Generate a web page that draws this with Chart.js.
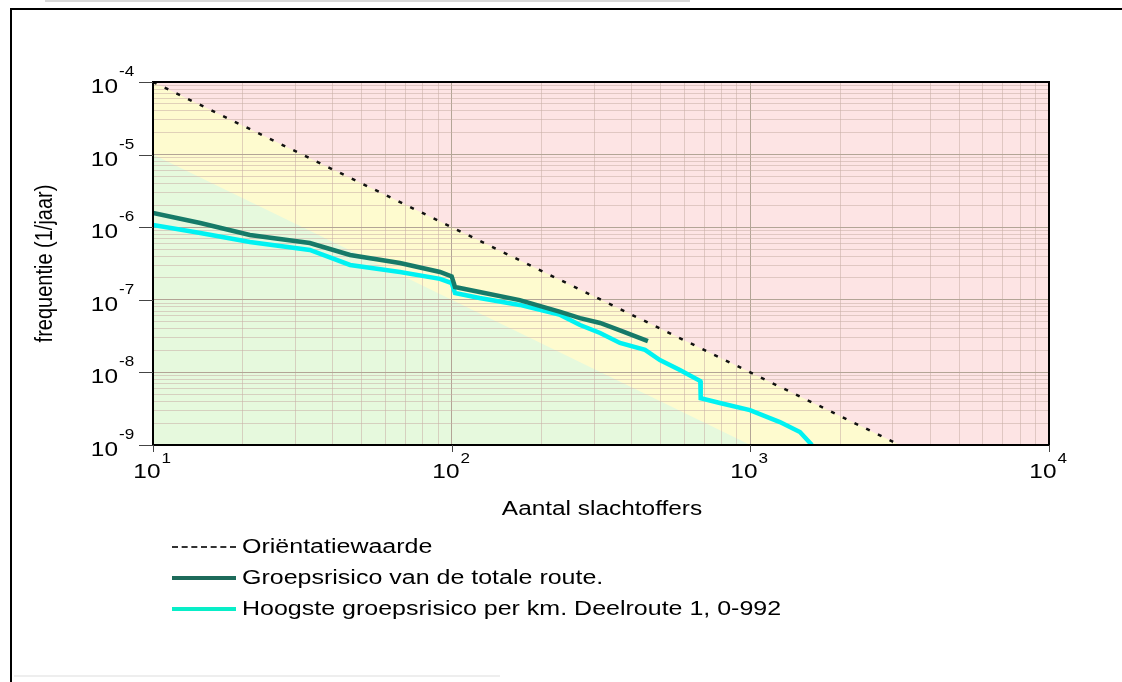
<!DOCTYPE html>
<html>
<head>
<meta charset="utf-8">
<script src="https://cdn.jsdelivr.net/npm/chart.js@4/dist/chart.umd.min.js"></script>
<style>
  body { margin: 0; background: #fff; }
  #wrap { position: relative; width: 1122px; height: 682px; overflow: hidden; background: #fff; }
  #chart { position: absolute; left: 0; top: 0; }
  .frameTop { position: absolute; left: 10px; top: 8px; width: 1112px; height: 2px; background: #000; }
  .frameLeft { position: absolute; left: 10px; top: 8px; width: 2px; height: 674px; background: #000; }
  .faint1 { position: absolute; left: 45px; top: 0px; width: 645px; height: 2px; background: #d8d8d8; }
  .faint2 { position: absolute; left: 14px; top: 675px; width: 486px; height: 2px; background: #eeeeee; }
  #legend { position: absolute; left: 172px; top: 531px; font-family: "Liberation Sans", Arial, sans-serif; font-size: 20px; color: #000; }
  .row { height: 31px; display: flex; align-items: center; white-space: nowrap; }
  .sample { width: 64px; height: 0; margin-right: 6px; }
  .txt { display: inline-block; transform: scaleX(1.25); transform-origin: left center; }
</style>
</head>
<body>
<div id="wrap">
  <div class="faint1"></div>
  <div class="frameTop"></div>
  <div class="frameLeft"></div>
  <div class="faint2"></div>
  <canvas id="chart" width="1122" height="682"></canvas>
  <div id="legend"></div>
</div>
<script>
// orientation value line: f = C / N^2
const orientX = [10, 3162];
const orientY = [1e-4, 1e-9];

// group risk total route
const totalX = [10, 14.4, 21.1, 33.5, 45.7, 67.1, 91.4, 100, 102.6, 124, 169, 231, 269, 314, 366, 454];
const totalY = [1.57e-6, 1.14e-6, 7.8e-7, 6.06e-7, 4.14e-7, 3.21e-7, 2.42e-7, 2.1e-7, 1.5e-7, 1.28e-7, 9.9e-8, 6.8e-8, 5.6e-8, 4.8e-8, 3.8e-8, 2.7e-8];

// highest group risk per km, Deelroute 1
const kmX = [10, 14.4, 21.1, 33.5, 45.7, 67.1, 91.4, 100, 102.6, 124, 169, 231, 269, 314, 366, 444, 498, 581, 680, 682, 791, 997, 1256, 1466, 1608];
const kmY = [1.07e-6, 8.3e-7, 6.25e-7, 4.85e-7, 3.02e-7, 2.42e-7, 1.94e-7, 1.7e-7, 1.24e-7, 1.06e-7, 8.5e-8, 6.2e-8, 4.5e-8, 3.49e-8, 2.54e-8, 2.04e-8, 1.48e-8, 1.08e-8, 7.6e-9, 4.4e-9, 3.79e-9, 3.03e-9, 2.07e-9, 1.51e-9, 1.0e-9];

// background zones (boundary lines in log space: y at x=10 and x=10000)
const zoneX = [10, 10000];
const yellowY = [1e-4, 1e-10];
const greenY = [1e-5, 1e-11];

const labels = ['Oriëntatiewaarde', 'Groepsrisico van de totale route.', 'Hoogste groepsrisico per km. Deelroute 1, 0-992'];

const xDecades = [10, 100, 1000, 10000];
const yDecades = [1e-9, 1e-8, 1e-7, 1e-6, 1e-5, 1e-4];

function pts(xs, ys) { return xs.map((x, i) => ({x: x, y: ys[i]})); }

function logTicks(decades) {
    var t = [];
    for (var i = 0; i < decades.length - 1; i++) {
        for (var m = 1; m < 10; m++) t.push({value: m * decades[i]});
    }
    t.push({value: decades[decades.length - 1]});
    return t;
}

function isDecade(v) {
    var l = Math.log10(v);
    return Math.abs(l - Math.round(l)) < 1e-6;
}

const gridColor = ctx => (ctx.tick && isDecade(ctx.tick.value)) ? '#b3a596' : 'rgba(200,175,165,0.55)';

const FONT = '"Liberation Sans", Arial, sans-serif';

function stretchText(ctx, text, x, y, size, align) {
    ctx.save();
    ctx.font = size + 'px ' + FONT;
    ctx.textBaseline = 'middle';
    var w = ctx.measureText(text).width * 1.22;
    var x0 = align === 'right' ? x - w : (align === 'center' ? x - w / 2 : x);
    ctx.translate(x0, y);
    ctx.scale(1.22, 1);
    ctx.textAlign = 'left';
    ctx.fillText(text, 0, 0);
    ctx.restore();
    return w;
}

const zonePlugin = {
    id: 'zones',
    beforeDraw(chart) {
        const {ctx, chartArea: a, scales: {x, y}} = chart;
        ctx.save();
        ctx.fillStyle = '#fde4e4';
        ctx.fillRect(a.left, a.top, a.right - a.left, a.bottom - a.top);
        ctx.beginPath();
        ctx.rect(a.left, a.top, a.right - a.left, a.bottom - a.top);
        ctx.clip();
        [[yellowY, '#fefbcf'], [greenY, '#e6f9dd']].forEach(function (z) {
            ctx.beginPath();
            ctx.moveTo(x.getPixelForValue(zoneX[0]), y.getPixelForValue(z[0][0]));
            ctx.lineTo(x.getPixelForValue(zoneX[1]), y.getPixelForValue(z[0][1]));
            ctx.lineTo(a.right, a.bottom + 5);
            ctx.lineTo(a.left, a.bottom + 5);
            ctx.closePath();
            ctx.fillStyle = z[1];
            ctx.fill();
        });
        ctx.restore();
    },
    afterDraw(chart) {
        const {ctx, chartArea: a, scales: {x, y}} = chart;
        ctx.save();
        ctx.strokeStyle = '#000';
        ctx.lineWidth = 2;
        ctx.strokeRect(a.left, a.top, a.right - a.left, a.bottom - a.top);
        ctx.lineWidth = 1;
        ctx.strokeStyle = '#444';
        ctx.fillStyle = '#000';
        yDecades.forEach(function (v) {
            var py = Math.round(y.getPixelForValue(v)) + 0.5;
            ctx.beginPath();
            ctx.moveTo(a.left - 14, py);
            ctx.lineTo(a.left, py);
            ctx.stroke();
            stretchText(ctx, '10', 118, py + 5, 20, 'right');
            stretchText(ctx, String(Math.round(Math.log10(v))), 119, py - 10, 14, 'left');
        });
        xDecades.forEach(function (v) {
            var px = Math.round(x.getPixelForValue(v)) + 0.5;
            ctx.beginPath();
            ctx.moveTo(px, a.bottom);
            ctx.lineTo(px, a.bottom + 7);
            ctx.stroke();
            stretchText(ctx, '10', px + 7, a.bottom + 27, 20, 'right');
            stretchText(ctx, String(Math.round(Math.log10(v))), px + 8, a.bottom + 14, 14, 'left');
        });
        stretchText(ctx, 'Aantal slachtoffers', (a.left + a.right) / 2 + 1, 509, 20, 'center');
        ctx.translate(46, (a.top + a.bottom) / 2);
        ctx.rotate(-Math.PI / 2);
        ctx.font = '20px ' + FONT;
        ctx.textAlign = 'center';
        ctx.textBaseline = 'middle';
        ctx.scale(1, 1.15);
        ctx.fillText('frequentie (1/jaar)', 0, 0);
        ctx.restore();
    }
};

var ctx = document.getElementById('chart').getContext('2d');

var chart = new Chart(ctx, {
    type: 'line',
    data: {
        datasets: [{
            label: labels[0],
            data: pts(orientX, orientY),
            borderColor: '#111',
            borderWidth: 2.5,
            borderDash: [4, 9],
            pointRadius: 0
        }, {
            label: labels[1],
            data: pts(totalX, totalY),
            borderColor: '#167a68',
            borderWidth: 4.5,
            pointRadius: 0
        }, {
            label: labels[2],
            data: pts(kmX, kmY),
            borderColor: '#00f2f2',
            borderWidth: 4.5,
            pointRadius: 0
        }]
    },
    options: {
        responsive: false,
        animation: false,
        layout: {padding: {left: 0, top: 82, right: 73, bottom: 207}},
        plugins: {legend: {display: false}, tooltip: {enabled: false}},
        scales: {
            x: {
                type: 'logarithmic', min: 10, max: 10000,
                afterBuildTicks: s => { s.ticks = logTicks(xDecades); },
                afterFit: s => { s.height = 30; },
                ticks: {display: false},
                grid: {color: gridColor, drawTicks: false, lineWidth: 1},
                border: {display: false}
            },
            y: {
                type: 'logarithmic', min: 1e-9, max: 1e-4,
                afterBuildTicks: s => { s.ticks = logTicks(yDecades); },
                afterFit: s => { s.width = 153; },
                ticks: {display: false},
                grid: {color: gridColor, drawTicks: false, lineWidth: 1},
                border: {display: false}
            }
        }
    },
    plugins: [zonePlugin]
});

// legend built from the datasets
var leg = document.getElementById('legend');
chart.data.datasets.forEach(function (d, i) {
    var row = document.createElement('div');
    row.className = 'row';
    var s = document.createElement('div');
    s.className = 'sample';
    if (i === 0) s.style.borderTop = '2px dashed #333';
    else s.style.borderTop = '4px solid ' + (i === 1 ? '#1d6b5a' : '#08eec8');
    var t = document.createElement('span');
    t.className = 'txt';
    t.textContent = d.label;
    row.appendChild(s);
    row.appendChild(t);
    leg.appendChild(row);
});
</script>
</body>
</html>
